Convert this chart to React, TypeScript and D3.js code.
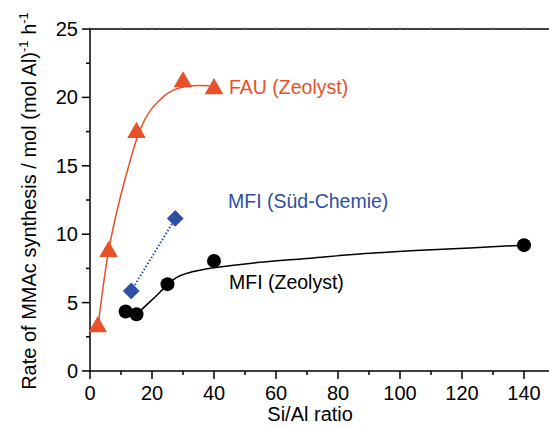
import React from 'react'
import * as d3 from 'd3'

const width = 549
const height = 426
const margin = { left: 90, top: 29, right: -6, bottom: 55 }

// measured points
const fauX = [2.5, 6, 15, 30, 40]
const fauY = [3.3, 8.8, 17.5, 21.2, 20.7]
const mfiZX = [11.5, 15, 25, 40, 140]
const mfiZY = [4.35, 4.15, 6.35, 8.05, 9.2]
const mfiSX = [13.3, 27.5]
const mfiSY = [5.85, 11.15]

// fitted guide curves
const fauFitX = [2.6, 4.2, 6, 8, 10, 12.5, 15, 17.5, 20, 22.5, 25, 29, 33, 38.5]
const fauFitY = [3.3, 6.1, 8.8, 11.0, 12.9, 15.0, 16.9, 18.3, 19.2, 19.8, 20.3, 20.7, 20.85, 20.85]
const mfiFitX = [15, 20, 25, 28, 33, 40, 55, 71, 87, 105, 122.6, 140]
const mfiFitY = [4.15, 5.2, 6.3, 6.85, 7.25, 7.55, 7.95, 8.25, 8.55, 8.8, 9.0, 9.2]

const xTicks = [0, 20, 40, 60, 80, 100, 120, 140]
const xMinor = [10, 30, 50, 70, 90, 110, 130, 150]
const yTicks = [0, 5, 10, 15, 20, 25]
const yMinor = [2.5, 7.5, 12.5, 17.5, 22.5]

const orange = '#e8502a'
const blue = '#2f4fa5'
const font = '"Liberation Sans", Arial, sans-serif'

const x = d3.scaleLinear().domain([0, 150]).range([margin.left, width - margin.right])
const y = d3.scaleLinear().domain([0, 25]).range([height - margin.bottom, margin.top])

const zip = (xs: number[], ys: number[]) => xs.map((v, i) => [v, ys[i]] as [number, number])

const lineFn = d3.line<[number, number]>()
  .x(d => x(d[0]))
  .y(d => y(d[1]))
  .curve(d3.curveCatmullRom)

const triangle = d3.symbol().type(d3.symbolTriangle).size(150)
const diamond = d3.symbol().type(d3.symbolSquare).size(140)

export default function App() {
  const y0 = y(0)
  return (
    <svg width={width} height={height} style={{ position: 'absolute', left: 0, top: 0, background: '#fff' }}
      fontFamily={font}>
      {/* top frame line with small ticks */}
      <line x1={x(0)} x2={width} y1={y(25)} y2={y(25)} stroke="#000" strokeWidth={1.5} />
      {xTicks.concat(xMinor).map(t => (
        <line key={'tt' + t} x1={x(t)} x2={x(t)} y1={y(25)} y2={y(25) - 2} stroke="#999" strokeWidth={1} />
      ))}

      {/* x axis */}
      <line x1={x(0) - 0.75} x2={width} y1={y0} y2={y0} stroke="#000" strokeWidth={1.5} />
      {xTicks.map(t => (
        <g key={'x' + t}>
          <line x1={x(t)} x2={x(t)} y1={y0} y2={y0 + 8} stroke="#000" strokeWidth={1.5} />
          <text x={x(t)} y={y0 + 29} textAnchor="middle" fontSize={20}>{t}</text>
        </g>
      ))}
      {xMinor.map(t => (
        <line key={'xm' + t} x1={x(t)} x2={x(t)} y1={y0} y2={y0 + 4} stroke="#000" strokeWidth={1.5} />
      ))}
      <text x={x(71)} y={y0 + 50} textAnchor="middle" fontSize={20}>Si/Al ratio</text>

      {/* y axis */}
      <line x1={x(0)} x2={x(0)} y1={y(25)} y2={y0} stroke="#000" strokeWidth={1.5} />
      {yTicks.map(t => (
        <g key={'y' + t}>
          <line x1={x(0) - 8} x2={x(0)} y1={y(t)} y2={y(t)} stroke="#000" strokeWidth={1.5} />
          <text x={x(0) - 12} y={y(t) + 7} textAnchor="end" fontSize={20}>{t}</text>
        </g>
      ))}
      {yMinor.map(t => (
        <line key={'ym' + t} x1={x(0) - 4} x2={x(0)} y1={y(t)} y2={y(t)} stroke="#000" strokeWidth={1.5} />
      ))}
      <text transform={`translate(36,${(y(0) + y(25)) / 2 + 1}) rotate(-90)`} textAnchor="middle" fontSize={20}>
        Rate of MMAc synthesis / mol (mol Al)<tspan dy={-8} fontSize={13}>-1</tspan><tspan dy={8}> h</tspan><tspan dy={-8} fontSize={13}>-1</tspan>
      </text>

      {/* fit curves */}
      <path d={lineFn(zip(fauFitX, fauFitY)) || ''} fill="none" stroke={orange} strokeWidth={1.5} />
      <path d={lineFn(zip(mfiFitX, mfiFitY)) || ''} fill="none" stroke="#000" strokeWidth={1.5} />
      <line x1={x(mfiSX[0])} y1={y(mfiSY[0])} x2={x(mfiSX[1])} y2={y(mfiSY[1])}
        stroke={blue} strokeWidth={2} strokeDasharray="1.5,2" />

      {/* markers */}
      {zip(fauX, fauY).map((d, i) => (
        <path key={'f' + i} d={triangle() || ''} transform={`translate(${x(d[0])},${y(d[1]) + 1})`} fill={orange} />
      ))}
      {zip(mfiSX, mfiSY).map((d, i) => (
        <path key={'s' + i} d={diamond() || ''} transform={`translate(${x(d[0])},${y(d[1])}) rotate(45)`} fill={blue} />
      ))}
      {zip(mfiZX, mfiZY).map((d, i) => (
        <circle key={'z' + i} cx={x(d[0])} cy={y(d[1])} r={7} fill="#000" />
      ))}

      {/* labels */}
      <text x={229} y={94} fontSize={19.5} fill={orange}>FAU (Zeolyst)</text>
      <text x={228} y={208} fontSize={19.5} fill={blue}>MFI (Süd-Chemie)</text>
      <text x={229} y={289} fontSize={19.5} fill="#000">MFI (Zeolyst)</text>
    </svg>
  )
}
